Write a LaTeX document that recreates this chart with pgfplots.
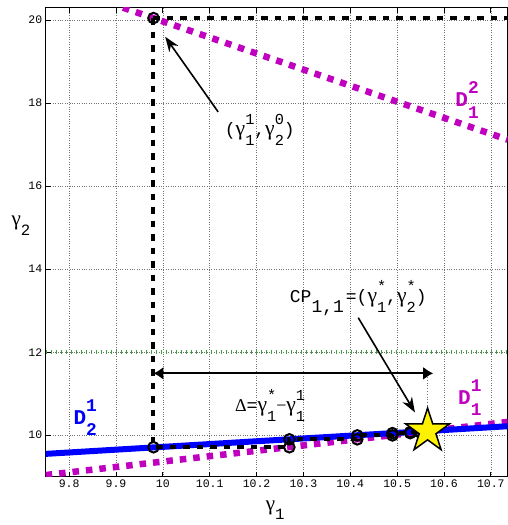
\documentclass[border=0pt]{standalone}
\usepackage{pgfplots}
\pgfplotsset{compat=1.18}
\usepackage{fontspec}
\usepackage{graphicx}
\usetikzlibrary{arrows.meta}
\setmainfont{Liberation Mono}
\newfontfamily\gr{Liberation Serif}
\newcommand\g{\scalebox{1.2}{\gr γ}}
\newcommand\subsup[2]{\makebox[0pt][l]{\raisebox{0.62em}{\scalebox{0.85}{#2}}}\raisebox{-0.55em}{\scalebox{0.85}{#1}}}
\definecolor{mag}{RGB}{191,0,191}
\definecolor{grn}{RGB}{60,160,60}
\pgfdeclareplotmark{fstar}{%
\pgfpathmoveto{\pgfpointpolar{90}{23pt}}%
\pgfpathlineto{\pgfpointpolar{126}{8.8pt}}%
\pgfpathlineto{\pgfpointpolar{162}{23pt}}%
\pgfpathlineto{\pgfpointpolar{198}{8.8pt}}%
\pgfpathlineto{\pgfpointpolar{234}{23pt}}%
\pgfpathlineto{\pgfpointpolar{270}{8.8pt}}%
\pgfpathlineto{\pgfpointpolar{306}{23pt}}%
\pgfpathlineto{\pgfpointpolar{342}{8.8pt}}%
\pgfpathlineto{\pgfpointpolar{18}{23pt}}%
\pgfpathlineto{\pgfpointpolar{54}{8.8pt}}%
\pgfpathclose\pgfusepathqfillstroke}
\begin{document}
\begin{tikzpicture}
\begin{axis}[
 scale only axis, width=462pt, height=469pt,
 xmin=9.75, xmax=10.736, ymin=9, ymax=20.3,
 xtick={9.8,9.9,10,10.1,10.2,10.3,10.4,10.5,10.6,10.7},
 ytick={10,12,14,16,18,20},
 /pgf/number format/assume math mode=true,
 /pgf/number format/fixed,
 grid=major, grid style={dotted, black!55, line width=0.6pt},
 tick align=inside, xtick pos=both, ytick pos=left,
 major tick length=5pt,
 axis line style={line width=1.2pt},
 tick style={black, line width=0.7pt},
 ticklabel style={font=\fontsize{11.5}{12}\selectfont},
 xlabel={\fontsize{21}{22}\selectfont{\gr γ}\raisebox{-0.45em}{\scalebox{0.75}{1}}},
 ylabel={\fontsize{21}{22}\selectfont{\gr γ}\raisebox{-0.45em}{\scalebox{0.75}{2}}},
 xlabel style={at={(axis description cs:0.497,-0.071)}, anchor=center},
 ylabel style={at={(axis description cs:-0.0535,0.535)}, anchor=center, rotate=-90},
]
\coordinate (BL) at (rel axis cs:0,0);
\coordinate (TR) at (rel axis cs:1,1);
% green reference line
\addplot[grn, line width=4pt, dash pattern=on 0.8pt off 4.2pt] coordinates {(9.75,12) (10.736,12)};
% D_1^2
\addplot[mag, line width=6.5pt, dash pattern=on 6.5pt off 7pt] coordinates {(9.915,20.3) (10.736,17.12)};
% D_1^1
\addplot[mag, line width=6.5pt, dash pattern=on 6.5pt off 7pt] coordinates {(9.75,9.04) (10.736,10.32)};
% D_2^1
\addplot[blue, line width=6pt] coordinates {(9.75,9.55) (10.736,10.216)};
% top horizontal
\addplot[black, line width=4pt, dash pattern=on 6.5pt off 7pt] coordinates {(9.98,20.05) (10.736,20.05)};
% staircase
\addplot[black, line width=4pt, dash pattern=on 6.5pt off 7pt, mark=o, mark size=5.3pt,
  mark options={solid, line width=2pt, fill=none}] coordinates {
 (9.98,20.05) (9.98,9.71) (10.27,9.71) (10.27,9.90) (10.415,9.90) (10.415,9.995)
 (10.49,9.995) (10.49,10.05) (10.528,10.05) (10.528,10.075) (10.548,10.075)
 (10.548,10.088) (10.558,10.088) (10.558,10.095) (10.563,10.095)};
% gray dotted marker of gamma1*
\draw[black!55, dotted, line width=0.8pt] (axis cs:10.565,11.4) -- (axis cs:10.565,10.6);
% star
\addplot[only marks, mark=fstar, mark options={fill=yellow, draw=black, line width=1.5pt}] coordinates {(10.565,10.1)};
% arrows
\draw[-{Stealth[length=15pt,width=11pt]}, line width=1.6pt] (axis cs:10.118,17.79) -- (axis cs:10.005,19.6);
\draw[-{Stealth[length=15pt,width=11pt]}, line width=1.6pt] (axis cs:10.417,12.83) -- (axis cs:10.538,10.55);
\draw[{Latex[length=10pt,width=13pt]}-{Latex[length=10pt,width=13pt]}, line width=1.8pt] (axis cs:9.98,11.49) -- (axis cs:10.577,11.49);
% labels
\node[font=\fontsize{18}{20}\selectfont] at (axis cs:10.207,17.36) {(\g\subsup{1}{1},\g\subsup{2}{0})};
\node[font=\fontsize{18}{20}\selectfont] at (axis cs:10.417,13.31) {CP\raisebox{-0.55em}{1,1}\kern2pt=(\g\subsup{1}{*},\g\subsup{2}{*})};
\node[font=\fontsize{18}{20}\selectfont] at (axis cs:10.229,10.72) {{\gr Δ}=\g\subsup{1}{*}{\gr −}\g\subsup{1}{1}};
\node[anchor=base west, text=mag, font=\fontsize{21}{24}\selectfont\bfseries, inner sep=0pt] at (axis cs:10.624,17.91) {D\subsup{1}{2}};
\node[anchor=base west, text=mag, font=\fontsize{21}{24}\selectfont\bfseries, inner sep=0pt] at (axis cs:10.630,10.747) {D\subsup{1}{1}};
\node[anchor=base west, text=blue, font=\fontsize{21}{24}\selectfont\bfseries, inner sep=0pt] at (axis cs:9.809,10.265) {D\subsup{2}{1}};
\end{axis}
\pgfresetboundingbox
\path[use as bounding box] ([xshift=-45.7pt,yshift=-48.3pt]BL) rectangle ([xshift=-0.7pt,yshift=7.7pt]TR);
\end{tikzpicture}
\end{document}
